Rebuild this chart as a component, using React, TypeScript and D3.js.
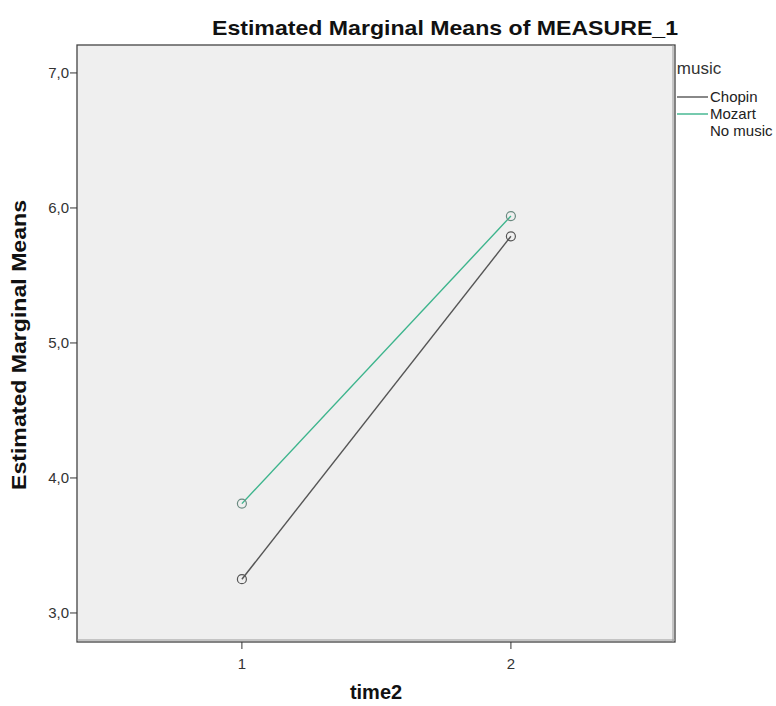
import React from "react";
import * as d3 from "d3";

const timePoints = [1, 2];
const seriesNames = ["Chopin", "Mozart", "No music"];
const chopinValues = [3.25, 5.79];
const mozartValues = [3.81, 5.94];
const seriesColors = ["#555555", "#3cb48c", "none"];
const yTicks = [3, 4, 5, 6, 7];

const W = 776;
const H = 706;
const left = 77;
const right = 675;
const top = 45;
const bottom = 642;

export default function App() {
  const x = d3.scaleLinear().domain([0.387, 2.61]).range([left, right]);
  const y = d3.scaleLinear().domain([2.785, 7.207]).range([bottom, top]);
  const line = d3
    .line<number>()
    .x((_, i) => x(timePoints[i]))
    .y((d) => y(d));
  const series = [chopinValues, mozartValues];
  const font = "Arial, 'Liberation Sans', sans-serif";
  const fmt = (v: number) => v.toFixed(1).replace(".", ",");

  return (
    <svg
      width={W}
      height={H}
      style={{ position: "absolute", left: 0, top: 0, background: "#fff" }}
      fontFamily={font}
    >
      <rect x={0} y={0} width={W} height={H} fill="#ffffff" />
      <rect x={left} y={top} width={right - left} height={bottom - top} fill="#efefef" />
      <rect
        x={left}
        y={top}
        width={right - left}
        height={bottom - top}
        fill="none"
        stroke="#444"
        strokeWidth={1.3}
      />
      <line x1={right - 2} y1={top} x2={right - 2} y2={bottom} stroke="#999" strokeWidth={1} />
      <line x1={left} y1={bottom - 2} x2={right} y2={bottom - 2} stroke="#999" strokeWidth={1} />

      <text
        x={212}
        y={35}
        fontSize={21}
        fontWeight="bold"
        fill="#111"
        textLength={466}
        lengthAdjust="spacingAndGlyphs"
      >
        Estimated Marginal Means of MEASURE_1
      </text>

      {yTicks.map((t) => (
        <g key={t}>
          <line x1={left - 7} x2={left} y1={y(t)} y2={y(t)} stroke="#333" />
          <text
            x={left - 8}
            y={y(t)}
            dy="0.35em"
            textAnchor="end"
            fontSize={15}
            fill="#333"
          >
            {fmt(t)}
          </text>
        </g>
      ))}
      <text
        transform={`translate(26, 490) rotate(-90)`}
        fontSize={20}
        fontWeight="bold"
        fill="#111"
        textLength={290}
        lengthAdjust="spacingAndGlyphs"
      >
        Estimated Marginal Means
      </text>

      {timePoints.map((t) => (
        <g key={t}>
          <line x1={x(t)} x2={x(t)} y1={bottom} y2={bottom + 7} stroke="#333" />
          <text x={x(t)} y={bottom + 27} textAnchor="middle" fontSize={15} fill="#333">
            {t}
          </text>
        </g>
      ))}
      <text x={376} y={699} textAnchor="middle" fontSize={20} fontWeight="bold" fill="#111">
        time2
      </text>

      {series.map((vals, si) => (
        <g key={si}>
          <path d={line(vals) || ""} fill="none" stroke={seriesColors[si]} strokeWidth={1.4} />
          {vals.map((v, i) => (
            <circle
              key={i}
              cx={x(timePoints[i])}
              cy={y(v)}
              r={4.5}
              fill="none"
              stroke={si === 0 ? "#555" : "#6a8a80"}
              strokeWidth={1.2}
            />
          ))}
        </g>
      ))}

      <text x={699} y={74} textAnchor="middle" fontSize={17} fill="#333">
        music
      </text>
      {seriesNames.map((n, i) => (
        <g key={n}>
          {seriesColors[i] !== "none" && (
            <line
              x1={677}
              x2={708}
              y1={97 + i * 17}
              y2={97 + i * 17}
              stroke={seriesColors[i]}
              strokeWidth={1.4}
            />
          )}
          <text x={710} y={97 + i * 17} dy="0.35em" fontSize={15} fill="#222">
            {n}
          </text>
        </g>
      ))}
    </svg>
  );
}
